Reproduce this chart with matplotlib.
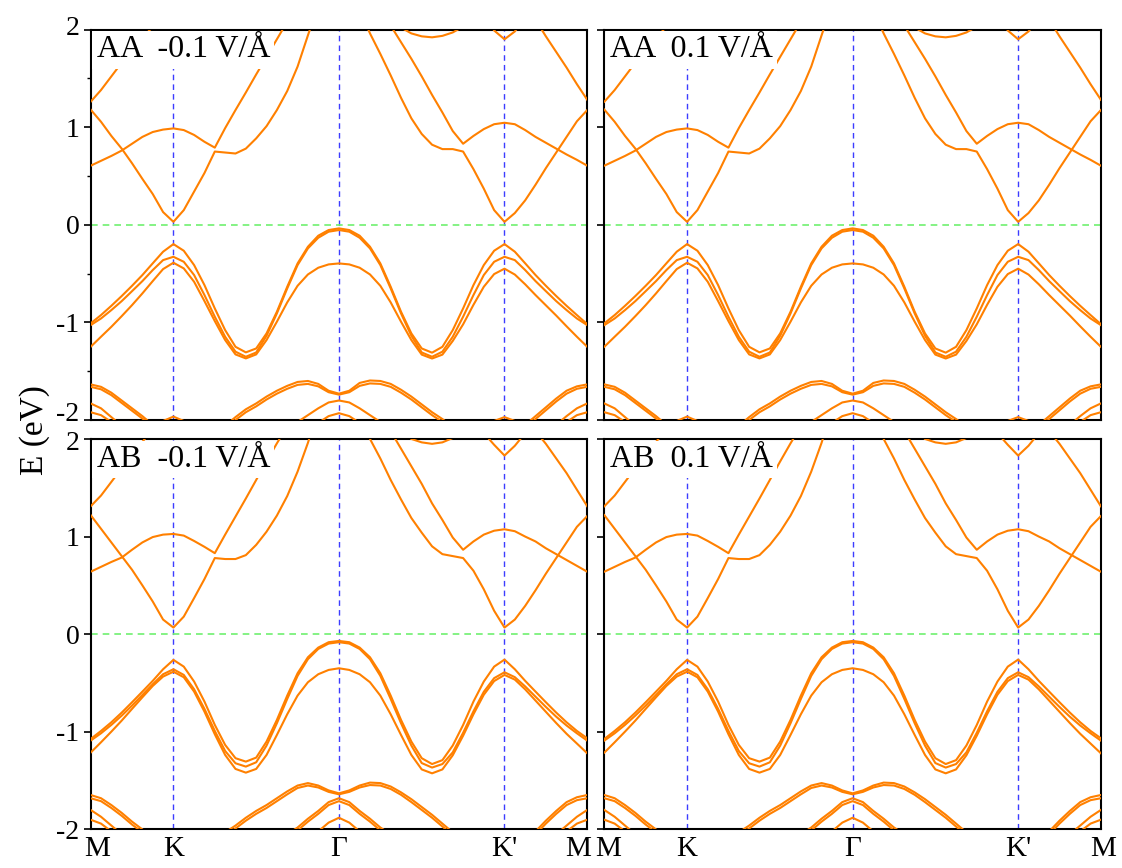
import numpy as np
import matplotlib
matplotlib.use("Agg")
import matplotlib.pyplot as plt
import matplotlib.transforms as mtransforms

plt.rcParams['font.family'] = ['Liberation Serif', 'DejaVu Serif']
plt.rcParams['axes.unicode_minus'] = False

# k path M-K-G-K'-M, one unit = |MK|, sampled every 0.125
kpath = np.linspace(0, 6, 49)
kstep = 0.125
kpoints = [0, 1, 3, 5, 6]
klabels = ['M', 'K', 'Γ', "K'", 'M']
panel_labels = [['AA  -0.1 V/Å', 'AA  0.1 V/Å'], ['AB  -0.1 V/Å', 'AB  0.1 V/Å']]


def seg(k0, vals):
    """band piece starting at k0, nan elsewhere"""
    e = np.full(kpath.size, np.nan)
    i = int(round(k0 / kstep))
    e[i:i + len(vals)] = vals
    return e


# ---------------- AA stacking ----------------
aa_v1 = [-1.01, -0.925, -0.83, -0.73, -0.625, -0.515, -0.395, -0.276, -0.198, -0.266, -0.413, -0.618, -0.857,
         -1.079, -1.25, -1.307, -1.267, -1.113, -0.891, -0.635, -0.396, -0.225, -0.112, -0.054, -0.037,
         -0.054, -0.112, -0.225, -0.396, -0.635, -0.891, -1.113, -1.267, -1.31, -1.25, -1.079, -0.857, -0.618,
         -0.413, -0.266, -0.198, -0.276, -0.395, -0.515, -0.625, -0.73, -0.83, -0.925, -1.018]
aa_v2 = [-1.028, -0.96, -0.874, -0.782, -0.68, -0.577, -0.464, -0.362, -0.328, -0.379, -0.515, -0.72, -0.942,
         -1.147, -1.30, -1.352, -1.308, -1.137, -0.908, -0.652, -0.413, -0.242, -0.133, -0.071, -0.054,
         -0.071, -0.133, -0.242, -0.413, -0.652, -0.908, -1.137, -1.308, -1.352, -1.30, -1.147, -0.942, -0.72,
         -0.515, -0.379, -0.328, -0.362, -0.464, -0.577, -0.68, -0.782, -0.874, -0.96, -1.028]
aa_v3 = [-1.25, -1.147, -1.045, -0.936, -0.823, -0.703, -0.577, -0.454, -0.389, -0.447, -0.584, -0.782, -0.987,
         -1.181, -1.328, -1.369, -1.328, -1.181, -0.993, -0.795, -0.625, -0.509, -0.44, -0.406, -0.396,
         -0.406, -0.44, -0.509, -0.625, -0.795, -0.993, -1.181, -1.33, -1.37, -1.33, -1.19, -1.02, -0.82,
         -0.635, -0.505, -0.45, -0.51, -0.61, -0.72, -0.825, -0.93, -1.04, -1.147, -1.25]
aa_c1 = [1.18, 1.055, 0.91, 0.78, 0.63, 0.47, 0.315, 0.13, 0.03, 0.15, 0.34, 0.53, 0.75, 0.74, 0.73, 0.78,
         0.885, 1.01, 1.175, 1.37, 1.62, 1.94, 2.25, 2.5, 2.6, 2.45, 2.2, 1.96, 1.75, 1.53, 1.30, 1.09, 0.93,
         0.82, 0.775, 0.775, 0.75, 0.57, 0.37, 0.15, 0.03, 0.12, 0.25, 0.41, 0.58, 0.74, 0.90, 1.06, 1.175]
aa_c2 = [0.605, 0.655, 0.705, 0.76, 0.83, 0.90, 0.95, 0.975, 0.987, 0.97, 0.92, 0.85, 0.79, 0.99, 1.175, 1.355,
         1.54, 1.72, 1.90, 2.08, 2.25, 2.4, 2.55, 2.65, 2.7, 2.65, 2.5, 2.35, 2.2, 2.04, 1.87, 1.70, 1.52, 1.33,
         1.15, 0.96, 0.83, 0.91, 0.98, 1.03, 1.045, 1.03, 0.97, 0.90, 0.84, 0.78, 0.72, 0.665, 0.605]
aa_c3a = seg(0.0, [1.26, 1.38, 1.52, 1.66, 1.79, 1.91, 2.03, 2.15])
aa_c3b = seg(5.375, [2.1, 1.93, 1.77, 1.61, 1.44, 1.28])
aa_c4 = seg(3.75, [2.02, 1.96, 1.93, 1.92, 1.935, 1.97, 2.03])
aa_c5 = seg(4.75, [2.15, 1.99, 1.90, 1.98, 2.12])
aa_l1a = seg(1.625, [-2.06, -1.97, -1.89, -1.83, -1.76, -1.70, -1.65, -1.61, -1.60, -1.63, -1.70, -1.73, -1.70,
                     -1.62, -1.595, -1.60, -1.63, -1.69, -1.76, -1.84, -1.92, -1.99, -2.07])
aa_l1b = seg(1.625, [-2.09, -2.0, -1.92, -1.86, -1.79, -1.73, -1.68, -1.64, -1.63, -1.655, -1.715, -1.74, -1.715,
                     -1.65, -1.625, -1.63, -1.66, -1.72, -1.79, -1.87, -1.95, -2.02, -2.1])
aa_l2 = seg(2.5, [-2.02, -1.95, -1.88, -1.82, -1.80, -1.82, -1.88, -1.95, -2.02])
aa_l3 = seg(2.75, [-2.03, -1.96, -1.93, -1.96, -2.03])
aa_hk1 = seg(0.875, [-2.01, -1.965, -2.01])
aa_hk2 = seg(4.875, [-2.01, -1.97, -2.01])
aa_m1a = seg(0.0, [-1.635, -1.66, -1.72, -1.80, -1.88, -1.96, -2.05])
aa_m1b = seg(5.25, [-2.05, -1.96, -1.87, -1.78, -1.70, -1.655, -1.635])
aa_m2a = seg(0.0, [-1.66, -1.685, -1.745, -1.825, -1.905, -1.985, -2.07])
aa_m2b = seg(5.25, [-2.08, -1.99, -1.90, -1.81, -1.73, -1.68, -1.66])
aa_m3a = seg(0.0, [-1.83, -1.88, -1.97, -2.06])
aa_m3b = seg(5.625, [-2.05, -1.96, -1.88, -1.83])
aa_m4a = seg(0.0, [-1.92, -1.95, -2.02])
aa_m4b = seg(5.75, [-2.02, -1.95, -1.92])

# ---------------- AB stacking ----------------
ab_v1 = [-1.073, -0.991, -0.902, -0.803, -0.697, -0.588, -0.478, -0.359, -0.263, -0.332, -0.485, -0.69, -0.929,
         -1.134, -1.27, -1.305, -1.264, -1.10, -0.878, -0.629, -0.40, -0.236, -0.137, -0.082, -0.069,
         -0.082, -0.137, -0.236, -0.40, -0.629, -0.878, -1.10, -1.27, -1.33, -1.29, -1.14, -0.93, -0.69,
         -0.485, -0.332, -0.26, -0.359, -0.478, -0.588, -0.697, -0.803, -0.902, -0.991, -1.066]
ab_v2 = [-1.09, -1.015, -0.929, -0.834, -0.731, -0.622, -0.512, -0.41, -0.359, -0.417, -0.564, -0.765, -0.991,
         -1.196, -1.322, -1.356, -1.312, -1.141, -0.912, -0.663, -0.427, -0.256, -0.151, -0.096, -0.082,
         -0.096, -0.151, -0.256, -0.427, -0.663, -0.912, -1.141, -1.32, -1.366, -1.33, -1.21, -1.01, -0.79,
         -0.59, -0.45, -0.39, -0.44, -0.535, -0.64, -0.745, -0.845, -0.935, -1.015, -1.09]
ab_v3 = [-1.213, -1.107, -0.998, -0.885, -0.765, -0.646, -0.53, -0.434, -0.384, -0.441, -0.588, -0.793, -1.025,
         -1.237, -1.38, -1.418, -1.38, -1.237, -1.032, -0.82, -0.629, -0.492, -0.41, -0.366, -0.349,
         -0.366, -0.41, -0.492, -0.629, -0.82, -1.032, -1.237, -1.385, -1.425, -1.385, -1.24, -1.04, -0.82,
         -0.62, -0.48, -0.417, -0.465, -0.565, -0.68, -0.795, -0.91, -1.02, -1.12, -1.22]
ab_c1 = [1.22, 1.08, 0.94, 0.80, 0.66, 0.50, 0.335, 0.15, 0.068, 0.18, 0.37, 0.565, 0.78, 0.77, 0.77, 0.81,
         0.915, 1.05, 1.215, 1.415, 1.665, 1.96, 2.3, 2.5, 2.6, 2.45, 2.2, 2.0, 1.80, 1.58, 1.38, 1.19, 1.04,
         0.90, 0.82, 0.80, 0.78, 0.65, 0.46, 0.24, 0.068, 0.15, 0.29, 0.45, 0.62, 0.78, 0.94, 1.10, 1.21]
ab_c2 = [0.64, 0.69, 0.74, 0.785, 0.865, 0.94, 0.995, 1.02, 1.027, 1.01, 0.955, 0.895, 0.83, 1.02, 1.205, 1.39,
         1.58, 1.77, 1.955, 2.13, 2.3, 2.45, 2.55, 2.65, 2.7, 2.65, 2.55, 2.4, 2.25, 2.08, 1.90, 1.72, 1.54, 1.34,
         1.17, 0.99, 0.865, 0.95, 1.02, 1.06, 1.075, 1.055, 1.00, 0.95, 0.88, 0.82, 0.76, 0.70, 0.64]
ab_c3a = seg(0.0, [1.31, 1.42, 1.56, 1.70, 1.84, 1.97, 2.1])
ab_c3b = seg(5.375, [2.08, 1.95, 1.80, 1.65, 1.48, 1.31])
ab_c4 = seg(3.875, [2.0, 1.965, 1.95, 1.965, 2.01])
ab_c5 = seg(4.75, [2.06, 1.94, 1.83, 1.93, 2.06])
ab_l1a = seg(1.625, [-2.03, -1.96, -1.88, -1.81, -1.75, -1.68, -1.61, -1.55, -1.525, -1.55, -1.60, -1.63, -1.60,
                     -1.55, -1.52, -1.525, -1.56, -1.62, -1.69, -1.77, -1.85, -1.94, -2.03])
ab_l1b = seg(1.625, [-2.06, -1.99, -1.91, -1.84, -1.78, -1.71, -1.64, -1.575, -1.55, -1.57, -1.615, -1.64, -1.615,
                     -1.57, -1.545, -1.55, -1.585, -1.645, -1.72, -1.80, -1.88, -1.97, -2.06])
ab_l2a = seg(2.375, [-2.05, -1.98, -1.89, -1.81, -1.72, -1.68, -1.72, -1.81, -1.89, -1.98, -2.05])
ab_l2b = seg(2.375, [-2.08, -2.01, -1.92, -1.84, -1.75, -1.71, -1.75, -1.84, -1.92, -2.01, -2.08])
ab_l3 = seg(2.75, [-2.02, -1.93, -1.88, -1.93, -2.02])
ab_m1a = seg(0.0, [-1.647, -1.68, -1.75, -1.83, -1.92, -2.0, -2.08])
ab_m1b = seg(5.25, [-2.1, -2.02, -1.91, -1.81, -1.72, -1.67, -1.647])
ab_m2a = seg(0.0, [-1.68, -1.71, -1.78, -1.86, -1.95, -2.03, -2.11])
ab_m2b = seg(5.25, [-2.13, -2.05, -1.94, -1.84, -1.75, -1.70, -1.68])
ab_m3a = seg(0.0, [-1.80, -1.87, -1.96, -2.05])
ab_m3b = seg(5.625, [-2.05, -1.96, -1.87, -1.80])
ab_m4a = seg(0.0, [-1.90, -1.94, -2.02])
ab_m4b = seg(5.75, [-2.02, -1.94, -1.90])

aa_bands = [aa_v1, aa_v2, aa_v3, aa_c1, aa_c2, aa_c3a, aa_c3b, aa_c4, aa_c5, aa_l1a, aa_l1b, aa_l2, aa_l3,
            aa_hk1, aa_hk2, aa_m1a, aa_m1b, aa_m2a, aa_m2b, aa_m3a, aa_m3b, aa_m4a, aa_m4b]
ab_bands = [ab_v1, ab_v2, ab_v3, ab_c1, ab_c2, ab_c3a, ab_c3b, ab_c4, ab_c5, ab_l1a, ab_l1b, ab_l2a, ab_l2b,
            ab_l3, ab_m1a, ab_m1b, ab_m2a, ab_m2b, ab_m3a, ab_m3b, ab_m4a, ab_m4b]

for b in aa_bands + ab_bands:
    assert len(b) == kpath.size, len(b)

band_color = '#ff8000'

fig = plt.figure(figsize=(11.22, 8.68), dpi=100)
lefts = [0.0808, 0.5386]
bottoms = [0.5161, 0.0444]
w, h = 0.4426, 0.4499


def shift(label, dx, dy):
    # nudge a tick label by dx, dy pixels
    off = mtransforms.ScaledTranslation(dx / 100, dy / 100, fig.dpi_scale_trans)
    label.set_transform(label.get_transform() + off)


for row, bands in enumerate([aa_bands, ab_bands]):
    for col in range(2):
        ax = fig.add_axes([lefts[col], bottoms[row], w, h])
        for b in bands:
            ax.plot(kpath, b, color=band_color, lw=1.5, zorder=3)
        for kp in kpoints[1:-1]:
            ax.axvline(kp, color='#3c3cff', lw=1.0, ls=(0, (4, 3)), zorder=2)
        ax.axhline(0, color='#70f070', lw=1.2, ls=(0, (4, 3)), zorder=2)
        ax.set_xlim(0, 6)
        ax.set_ylim(-2, 2)
        ax.set_yticks([-2, -1, 0, 1, 2])
        ax.set_xticks(kpoints)
        ax.set_xticklabels(klabels)
        ax.tick_params(axis='y', direction='out', length=5, width=1.2, labelsize=20, pad=3)
        ax.tick_params(axis='x', length=0, labelsize=21, pad=5)
        if row == 0 and col == 0:
            ax.set_yticks([-1.5, -0.5, 0.5, 1.5], minor=True)
            ax.tick_params(axis='y', which='minor', direction='out', length=3, width=1.0)
        if col == 1:
            ax.tick_params(axis='y', labelleft=False)
        if row == 0:
            ax.tick_params(axis='x', labelbottom=False)
        for sp in ax.spines.values():
            sp.set_linewidth(1.5)
        ax.text(0.012, 0.985, panel_labels[row][col], transform=ax.transAxes, ha='left', va='top',
                fontsize=23, zorder=5,
                bbox=dict(facecolor='white', edgecolor='none', pad=3))

        xt = ax.xaxis.get_major_ticks()
        yt = ax.yaxis.get_major_ticks()
        if row == 1:
            if col == 0:
                shift(xt[0].label1, 6, 0)
                shift(xt[-1].label1, -9, 0)
            else:
                shift(xt[0].label1, 4, 0)
                shift(xt[-1].label1, 2, 0)
        if col == 0:
            if row == 0:
                shift(yt[0].label1, 0, 9)
                shift(yt[-1].label1, 0, 4)
            else:
                shift(yt[-1].label1, 0, -2)

fig.text(0.031, 0.505, 'E (eV)', rotation=90, ha='center', va='center', fontsize=24)

fig.savefig('out.png', dpi=100)
